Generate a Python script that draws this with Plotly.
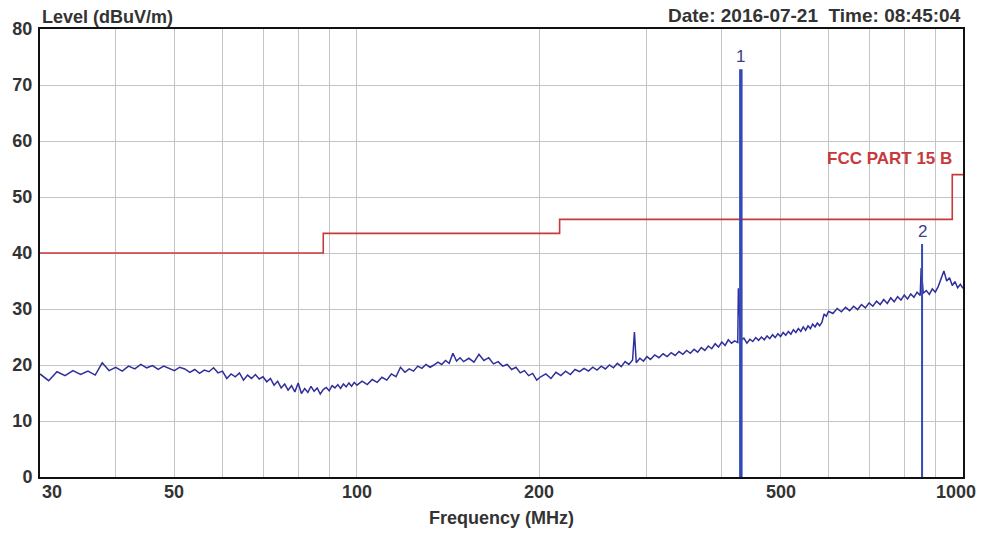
import math
import plotly.graph_objects as go

# ---------------- data ----------------
freq_a = [30, 31, 32, 33, 34, 35, 36, 37, 38, 39, 40, 41, 42, 43, 44, 45, 46, 47, 48, 49,
          50, 51, 52, 53, 54, 55, 56, 57, 58, 59, 60, 61, 62, 63, 64, 65, 66, 67, 68, 69,
          70, 71, 72, 73, 74, 75, 76, 77, 78, 79, 80, 81, 82, 83, 84, 85, 86, 87, 88, 89,
          90, 91, 92, 93, 94, 95, 96, 97, 98, 99, 100]
level_a = [18.4, 17.2, 18.8, 18.1, 19.0, 18.3, 18.9, 18.2, 20.4, 19.0,
           19.6, 18.9, 19.8, 19.3, 20.1, 19.5, 19.9, 19.2, 19.8, 19.4,
           19.0, 19.6, 19.3, 18.7, 19.2, 18.5, 19.1, 18.8, 19.5, 18.6,
           18.9, 17.6, 18.4, 17.9, 18.6, 17.3, 18.2, 17.6, 18.3, 17.5,
           17.9, 17.0, 17.6, 16.4, 17.1, 15.9, 16.6, 15.5, 16.3, 15.2,
           16.8, 14.9, 15.8, 15.1, 16.2, 15.3, 15.9, 14.8, 15.6, 16.0,
           15.4, 16.3, 15.9, 16.5, 15.8, 16.6, 16.1, 16.8, 16.2, 16.9,
           16.4]

freq_b = [102, 104, 106, 108, 110, 112, 114, 116, 118, 120, 122, 124, 126, 128, 130,
          132, 134, 136, 138, 140, 142, 144, 146, 148, 150]
level_b = [17.1, 16.5, 17.4, 16.9, 17.8, 17.3, 18.4, 17.9, 19.6, 18.7, 19.3, 18.9, 19.8,
           19.4, 20.1, 19.6, 20.0, 20.5, 20.1, 20.8, 20.3, 22.1, 20.7, 21.3, 20.6]

freq_c = [153, 156, 159, 162, 165, 168, 171, 174, 177, 180, 183, 186, 189, 192, 195, 198, 201,
          205, 209, 213, 217, 221, 225, 229, 233, 237, 241, 245, 249, 253, 257, 261, 265,
          269, 273, 277, 281, 285, 287, 289, 293, 297, 301]
level_c = [21.2, 20.5, 21.9, 20.8, 21.3, 20.2, 20.6, 19.8, 20.1, 19.2, 19.6, 18.6, 19.0,
           18.1, 18.5, 17.3, 17.9,
           18.4, 17.6, 18.7, 18.1, 18.9, 18.3, 19.2, 18.8, 19.4, 18.9, 19.6, 19.1, 19.8,
           19.3, 20.0, 19.5, 20.3, 19.7, 20.6, 20.1, 20.9, 25.9, 20.4, 21.2, 20.7, 21.5]

freq_d = [305, 310, 315, 320, 325, 330, 335, 340, 345, 350, 355, 360, 365, 370, 375, 380,
          385, 390, 395, 400, 405, 410, 415, 420, 425, 426,
          430, 435, 440, 445, 450, 455, 460, 465, 470, 475, 480, 485, 490, 495, 500, 505,
          510, 515, 520, 525, 530, 535, 540, 545, 550, 555, 560, 565, 570, 575, 580, 585,
          590, 595, 600]
level_d = [21.0, 21.8, 21.3, 22.0, 21.5, 22.2, 21.7, 22.4, 21.9, 22.6, 22.1, 22.8, 22.3,
           23.1, 22.6, 23.4, 22.9, 23.8, 23.2, 24.1, 23.5, 24.5, 23.9, 24.3, 24.0, 33.7,
           24.4, 24.8, 23.9, 24.6, 24.2, 24.9, 24.4, 25.0, 24.5, 25.2, 24.7, 25.4, 24.9,
           25.6, 25.1, 25.8, 25.3, 26.0, 25.5, 26.3, 25.8, 26.5, 26.0, 26.8, 26.2, 27.0,
           26.5, 27.3, 26.8, 27.5, 27.0, 27.6, 29.1, 28.7, 29.6]

freq_e = [610, 620, 630, 640, 650, 660, 670, 680, 690, 700, 710, 720, 730, 740, 750, 760,
          770, 780, 790, 800, 810, 820, 830, 840, 850, 853, 860, 870, 880, 890, 900, 910,
          920, 930, 940, 950, 960, 970, 980, 990, 1000]
level_e = [29.2, 30.1, 29.5, 30.3, 29.7, 30.5, 29.9, 30.8, 30.2, 31.1, 30.5, 31.4, 30.8,
           31.7, 31.0, 32.0, 31.3, 32.2, 31.6, 32.5, 31.8, 32.7, 32.1, 33.0, 32.4, 37.3,
           32.8, 33.3, 32.6, 33.6, 33.0, 34.0, 35.5, 36.8, 35.0, 35.6, 34.2, 34.9, 33.8,
           34.4, 33.7]

limit_freq = [30, 88, 88, 216, 216, 960, 960, 1000]
limit_level = [40, 40, 43.5, 43.5, 46, 46, 54, 54]
limit_name = "FCC PART 15 B"

marker_freq = [430, 856]
marker_level = [72.8, 41.6]
marker_label = ["1", "2"]
marker_width = [3.5, 2.0]

grid_freq = [30, 40, 50, 60, 70, 80, 90, 100, 200, 300, 400, 500, 600, 700, 800, 900, 1000]
xtick_vals = [30, 50, 100, 200, 500, 1000]
xtick_text = ["30", "50", "100", "200", "500", "1000"]

# ---------------- figure ----------------
FONT = "Liberation Sans"
TXT = "#333333"
trace_color = "#2f2f9c"
marker_color = "#3349b8"
label_color = "#3c3c8c"
limit_color = "#c83a3a"

freq = freq_a + freq_b + freq_c + freq_d + freq_e
level = level_a + level_b + level_c + level_d + level_e

fig = go.Figure()
fig.add_trace(go.Scatter(x=limit_freq, y=limit_level, mode="lines",
                         line=dict(color=limit_color, width=1.6), hoverinfo="skip"))
fig.add_trace(go.Scatter(x=freq, y=level, mode="lines",
                         line=dict(color=trace_color, width=1.5)))
for f, lv, w in zip(marker_freq, marker_level, marker_width):
    fig.add_trace(go.Scatter(x=[f, f], y=[0, lv], mode="lines",
                             line=dict(color=marker_color, width=w)))

lg = math.log10  # annotations on a log axis are positioned in log10 units

annotations = []
for f, lv, lab in zip(marker_freq, marker_level, marker_label):
    annotations.append(dict(x=lg(f), y=lv, xref="x", yref="y", text=lab, showarrow=False,
                            xanchor="center", yanchor="bottom", yshift=1,
                            font=dict(family=FONT, size=17, color=label_color)))

annotations.append(dict(x=lg(limit_freq[-2]), y=limit_level[-1], xref="x", yref="y",
                        text=limit_name, showarrow=False, xanchor="right", yanchor="bottom",
                        xshift=2, yshift=5,
                        font=dict(family=FONT, size=17, color=limit_color, weight="bold")))

for v, t in zip(xtick_vals, xtick_text):
    anchor = "center"
    shift = 0
    if v == xtick_vals[0]:
        anchor = "left"
    if v == xtick_vals[-1]:
        shift = -7
    annotations.append(dict(x=lg(v), y=0, xref="x", yref="paper", text=t, showarrow=False,
                            xanchor=anchor, yanchor="top", xshift=shift, yshift=-3,
                            font=dict(family=FONT, size=18, color=TXT, weight="bold")))

annotations.append(dict(x=0.5, y=0, xref="paper", yref="paper", text="Frequency (MHz)",
                        showarrow=False, xanchor="center", yanchor="top", yshift=-29,
                        font=dict(family=FONT, size=18, color=TXT, weight="bold")))
annotations.append(dict(x=0, y=1, xref="paper", yref="paper", text="Level (dBuV/m)",
                        showarrow=False, xanchor="left", yanchor="bottom", xshift=0, yshift=0,
                        font=dict(family=FONT, size=18, color=TXT, weight="bold")))
annotations.append(dict(x=1, y=1, xref="paper", yref="paper",
                        text="Date: 2016-07-21\u00a0\u00a0Time: 08:45:04",
                        showarrow=False, xanchor="right", yanchor="bottom", yshift=1,
                        font=dict(family=FONT, size=19, color=TXT, weight="bold")))

fig.update_layout(
    width=984, height=534,
    margin=dict(l=36, r=21, t=29, b=57),
    paper_bgcolor="white", plot_bgcolor="white",
    showlegend=False,
    annotations=annotations,
    xaxis=dict(type="log", range=[lg(30), lg(1000)], tickvals=grid_freq,
               showticklabels=False, ticks="",
               showgrid=True, gridcolor="#c4c4c4", gridwidth=1,
               showline=True, linecolor="#111111", linewidth=2, mirror=True,
               zeroline=False),
    yaxis=dict(range=[0, 80], dtick=10, tick0=0, ticks="",
               showgrid=True, gridcolor="#c4c4c4", gridwidth=1,
               showline=True, linecolor="#111111", linewidth=2, mirror=True,
               zeroline=False, ticklabelstandoff=2,
               tickfont=dict(family=FONT, size=18, color=TXT, weight="bold")),
)

fig.write_html("out.html")
